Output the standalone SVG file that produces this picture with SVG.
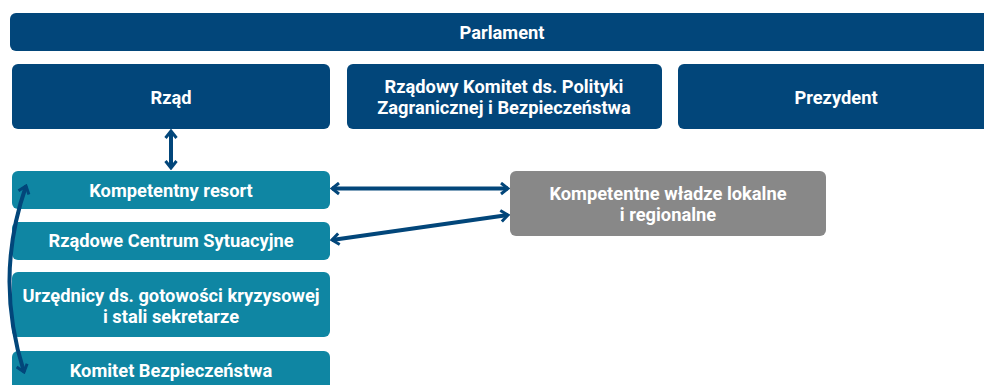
<svg xmlns="http://www.w3.org/2000/svg" width="984" height="385" viewBox="0 0 984 385">
<style>
.db{fill:#02467a}
.tl{fill:#0f86a3}
.gr{fill:#888888}
text{font-family:Roboto,"Liberation Sans",sans-serif;font-weight:bold;font-size:18.3px;fill:#ffffff;text-anchor:middle;dominant-baseline:central}
.c{fill:none;stroke:#02467a;stroke-width:4}
</style>
<defs>
<marker id="ah" viewBox="0 0 12 14" refX="10" refY="7" markerWidth="12" markerHeight="14" markerUnits="userSpaceOnUse" orient="auto-start-reverse">
<path d="M3,1.5 L10,7 L3,12.5" fill="none" stroke="#02467a" stroke-width="3"/>
</marker>
</defs>
<rect width="984" height="385" fill="#ffffff"/>
<g id="parlament"><rect class="db" x="10" y="13" width="984" height="38" rx="6"/><text x="502" y="32">Parlament</text></g>
<g id="rzad"><rect class="db" x="12" y="64" width="318" height="65" rx="6"/><text x="171" y="97">Rząd</text></g>
<g id="komitet-rzadowy"><rect class="db" x="347" y="64" width="315" height="65" rx="6"/><text x="504" y="86">Rządowy Komitet ds. Polityki</text><text x="504" y="107">Zagranicznej i Bezpieczeństwa</text></g>
<g id="prezydent"><rect class="db" x="678" y="64" width="316" height="65" rx="6"/><text x="836" y="97">Prezydent</text></g>
<g id="resort"><rect class="tl" x="12" y="171" width="318" height="38" rx="6"/><text x="171" y="190">Kompetentny resort</text></g>
<g id="rcs"><rect class="tl" x="12" y="222" width="318" height="38" rx="6"/><text x="171" y="240">Rządowe Centrum Sytuacyjne</text></g>
<g id="urzednicy"><rect class="tl" x="12" y="272" width="318" height="65" rx="6"/><text x="171" y="295">Urzędnicy ds. gotowości kryzysowej</text><text x="171" y="316">i stali sekretarze</text></g>
<g id="komitet-bezp"><rect class="tl" x="12" y="351" width="318" height="50" rx="6"/><text x="171" y="370">Komitet Bezpieczeństwa</text></g>
<g id="wladze"><rect class="gr" x="510" y="171" width="316" height="65" rx="6"/><text x="668" y="193">Kompetentne władze lokalne</text><text x="668" y="214">i regionalne</text></g>
<g id="connectors">
<path class="c" d="M171,131 L171,168" marker-start="url(#ah)" marker-end="url(#ah)"/>
<path class="c" d="M332,188.5 L508,188.5" marker-start="url(#ah)" marker-end="url(#ah)"/>
<path class="c" d="M332,240 L508,215" marker-start="url(#ah)" marker-end="url(#ah)"/>
<path class="c" d="M26,186 Q-6,278 24,372" marker-start="url(#ah)" marker-end="url(#ah)"/>
</g>
</svg>
